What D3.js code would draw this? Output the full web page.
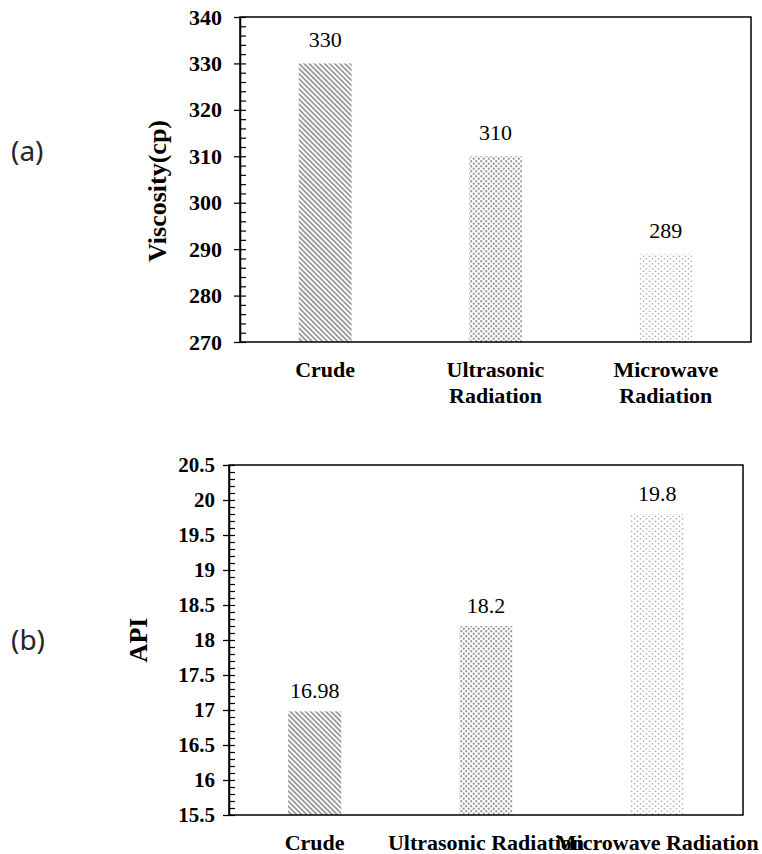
<!DOCTYPE html>
<html>
<head>
<meta charset="utf-8">
<script src="https://cdnjs.cloudflare.com/ajax/libs/d3/7.8.5/d3.min.js"></script>
<style>
    body { margin: 0; background: #fff; }
    svg text { font-family: "Liberation Serif", "Times New Roman", serif; fill: #000; }
    .tick text { font-weight: bold; }
    svg text.panel-tag { font-family: "Noto Sans", sans-serif; fill: #262626; }
</style>
</head>
<body>
<div id="chart"></div>
<script>
var categories = ["Crude", "Ultrasonic Radiation", "Microwave Radiation"];
var viscosity = [330, 310, 289];
var viscosityLabels = ["330", "310", "289"];
var api = [16.98, 18.2, 19.8];
var apiLabels = ["16.98", "18.2", "19.8"];
var viscosityTicks = [270, 280, 290, 300, 310, 320, 330, 340];
var apiTicks = [15.5, 16, 16.5, 17, 17.5, 18, 18.5, 19, 19.5, 20, 20.5];

(function() {
    var width = 762, height = 854;
    var serif = '"Liberation Serif", "Times New Roman", serif';

    var svg = d3.select("#chart")
        .append("svg")
            .attr("width", width)
            .attr("height", height);

    var defs = svg.append("defs");

    // fill patterns, one per treatment
    var stripes = defs.append("pattern")
        .attr("id", "pat-stripes")
        .attr("patternUnits", "userSpaceOnUse")
        .attr("width", 3.6)
        .attr("height", 3.6)
        .attr("patternTransform", "rotate(-45)");
    stripes.append("rect").attr("width", 3.6).attr("height", 3.6).attr("fill", "#fff");
    stripes.append("rect").attr("width", 1.8).attr("height", 3.6).attr("fill", "#9a9a9a");

    var dense = defs.append("pattern")
        .attr("id", "pat-dense")
        .attr("patternUnits", "userSpaceOnUse")
        .attr("width", 5)
        .attr("height", 5);
    dense.append("rect").attr("width", 5).attr("height", 5).attr("fill", "#fff");
    dense.append("circle").attr("cx", 1.25).attr("cy", 1.25).attr("r", 1.15).attr("fill", "#999");
    dense.append("circle").attr("cx", 3.75).attr("cy", 3.75).attr("r", 1.15).attr("fill", "#999");

    var light = defs.append("pattern")
        .attr("id", "pat-light")
        .attr("patternUnits", "userSpaceOnUse")
        .attr("width", 6)
        .attr("height", 5);
    light.append("rect").attr("width", 6).attr("height", 5).attr("fill", "#fff");
    light.append("circle").attr("cx", 1.5).attr("cy", 1.25).attr("r", 0.85).attr("fill", "#aaa");
    light.append("circle").attr("cx", 4.5).attr("cy", 3.75).attr("r", 0.85).attr("fill", "#aaa");

    var fillScale = d3.scaleOrdinal()
        .domain(categories)
        .range(["url(#pat-stripes)", "url(#pat-dense)", "url(#pat-light)"]);

    function drawPanel(cfg) {
        var g = svg.append("g").classed("panel", true);

        var x = d3.scaleBand()
            .domain(categories)
            .range([cfg.left, cfg.right])
            .paddingInner(0.69)
            .paddingOuter(0.345);

        var y = d3.scaleLinear()
            .domain([cfg.ticks[0], cfg.ticks[cfg.ticks.length - 1]])
            .range([cfg.bottom, cfg.top]);

        g.selectAll(".bar")
            .data(cfg.values)
            .enter()
            .append("rect")
                .classed("bar", true)
                .attr("x", function(d, i) { return x(categories[i]); })
                .attr("y", function(d) { return y(d); })
                .attr("width", x.bandwidth())
                .attr("height", function(d) { return y.range()[0] - y(d); })
                .style("fill", function(d, i) { return fillScale(categories[i]); });

        g.selectAll(".value-label")
            .data(cfg.values)
            .enter()
            .append("text")
                .classed("value-label", true)
                .attr("x", function(d, i) { return x(categories[i]) + x.bandwidth() / 2; })
                .attr("y", function(d) { return y(d) - cfg.labelGap; })
                .attr("text-anchor", "middle")
                .style("font-family", serif)
                .style("font-size", "22px")
                .text(function(d, i) { return cfg.labels[i]; });

        // plot frame
        g.append("rect")
            .attr("x", cfg.left)
            .attr("y", cfg.top)
            .attr("width", cfg.right - cfg.left)
            .attr("height", cfg.bottom - cfg.top)
            .attr("fill", "none")
            .attr("stroke", "#000")
            .attr("stroke-width", 1.5);

        // major ticks outside, labelled
        var major = g.append("g")
            .attr("transform", "translate(" + cfg.left + ",0)")
            .call(d3.axisLeft(y)
                .tickValues(cfg.ticks)
                .tickFormat(function(d) { return String(d); })
                .tickSizeInner(6)
                .tickSizeOuter(0)
                .tickPadding(cfg.tickPad));
        major.selectAll("text")
            .style("font-family", serif)
            .style("font-size", cfg.tickFont + "px");
        major.selectAll("line").attr("stroke", "#000").attr("stroke-width", 1.3);
        major.select(".domain").attr("stroke", "#000").attr("stroke-width", 1.5);

        // minor ticks inside
        var minor = g.append("g")
            .attr("transform", "translate(" + cfg.left + ",0)")
            .call(d3.axisRight(y)
                .tickValues(cfg.minor)
                .tickFormat("")
                .tickSizeInner(6)
                .tickSizeOuter(0));
        minor.select(".domain").remove();
        minor.selectAll("line").attr("stroke", "#000").attr("stroke-width", 1.2);

        // category labels
        var cats = g.selectAll(".cat-label")
            .data(categories)
            .enter()
            .append("text")
                .classed("cat-label", true)
                .attr("text-anchor", "middle")
                .style("font-family", serif)
                .style("font-size", "22px")
                .style("font-weight", "bold");

        cats.each(function(d) {
            var t = d3.select(this);
            var lines = cfg.wrap ? d.split(" ") : [d];
            lines.forEach(function(line, k) {
                t.append("tspan")
                    .attr("x", x(d) + x.bandwidth() / 2)
                    .attr("y", cfg.catY + k * 26)
                    .text(line);
            });
        });

        // y title
        g.append("text")
            .attr("transform", "translate(" + cfg.titleX + "," + cfg.titleY + ") rotate(-90)")
            .attr("text-anchor", "middle")
            .style("font-family", serif)
            .style("font-size", "26px")
            .style("font-weight", "bold")
            .text(cfg.title);

        g.append("text")
            .classed("panel-tag", true)
            .attr("x", 11)
            .attr("y", cfg.tagY)
            .style("font-size", "28px")
            .text(cfg.tag);
    }

    drawPanel({
        values: viscosity,
        labels: viscosityLabels,
        ticks: viscosityTicks,
        minor: d3.range(270, 341, 2),
        left: 240, right: 751, top: 17, bottom: 342,
        tickPad: 12, tickFont: 22,
        labelGap: 16,
        catY: 377, wrap: true,
        title: "Viscosity(cp)", titleX: 166, titleY: 191,
        tag: "(a)", tagY: 161
    });

    drawPanel({
        values: api,
        labels: apiLabels,
        ticks: apiTicks,
        minor: d3.range(155, 206, 1).map(function(v) { return v / 10; }),
        left: 229, right: 743, top: 465, bottom: 815,
        tickPad: 8, tickFont: 21,
        labelGap: 13,
        catY: 850, wrap: false,
        title: "API", titleX: 147, titleY: 640,
        tag: "(b)", tagY: 650
    });
})()
</script>
</body>
</html>
